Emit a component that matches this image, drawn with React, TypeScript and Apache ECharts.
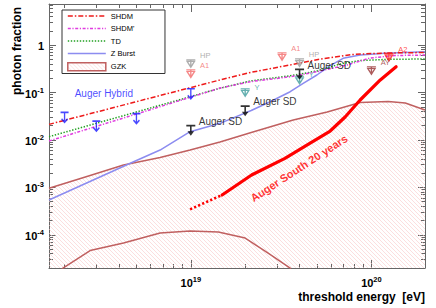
import React, { useEffect, useRef } from "react";
import * as echarts from "echarts";

const FONT = 'Arial, "Liberation Sans", Helvetica, sans-serif';

// ---- axis ranges and major ticks (energy in eV, photon fraction) ----
const energyRange = [1.64e18, 1.98e20];
const fractionRange = [1.99e-5, 7.36];
const energyMajorTicks = [1e19, 1e20];
const fractionMajorTicks = [1e-4, 1e-3, 1e-2, 1e-1, 1];

// ---- model curves ----
const shdmE = [1.64e18, 4.79e18, 1.45e19, 2.16e19, 4.03e19, 5.07e19, 7.72e19, 1.19e20, 1.98e20];
const shdmF = [0.0213, 0.0615, 0.184, 0.267, 0.419, 0.497, 0.633, 0.681, 0.698];

const shdm2E = [1.64e18, 4.79e18, 1.45e19, 2.13e19, 3.55e19, 4.99e19, 7.31e19, 9.83e19, 1.35e20, 1.98e20];
const shdm2F = [0.0095, 0.0335, 0.124, 0.169, 0.215, 0.275, 0.38, 0.534, 0.603, 0.618];

const tdE = [1.64e18, 4.79e18, 1.45e19, 2.13e19, 3.55e19, 4.99e19, 6.71e19, 8.66e19, 1.27e20, 1.98e20];
const tdF = [0.0117, 0.0371, 0.123, 0.175, 0.226, 0.284, 0.399, 0.473, 0.502, 0.509];

const zburstE = [1.64e18, 4.79e18, 6.76e18, 9.91e18, 1.45e19, 2.16e19, 2.75e19, 3.55e19, 4.19e19, 4.99e19, 5.91e19, 6.97e19, 8.66e19, 1.19e20, 1.98e20];
const zburstF = [5.4e-4, 3.42e-3, 6.12e-3, 0.0149, 0.0224, 0.0417, 0.064, 0.104, 0.156, 0.234, 0.368, 0.527, 0.618, 0.671, 0.726];

const gzkUpperE = [1.64e18, 2.77e18, 4.24e18, 6.76e18, 9.91e18, 1.45e19, 2.16e19, 3.69e19, 5.69e19, 8.66e19, 1.24e20, 1.54e20, 1.98e20];
const gzkUpperF = [9.53e-4, 1.78e-3, 2.96e-3, 4.25e-3, 6.12e-3, 9.03e-3, 0.0143, 0.0263, 0.0388, 0.0615, 0.0646, 0.06, 0.0427];

const gzkLowerE = [1.77e18, 1.96e18, 2.77e18, 4.24e18, 6.76e18, 9.91e18, 1.42e19, 2.0e19, 2.68e19, 3.55e19, 3.69e19];
const gzkLowerF = [1.35e-5, 1.98e-5, 4.64e-5, 6.68e-5, 1.09e-4, 1.2e-4, 1.14e-4, 8.52e-5, 4.11e-5, 1.98e-5, 1.35e-5];

// ---- Auger South 20 years sensitivity ----
const southDotE = [9.91e18, 1.49e19];
const southDotF = [3.44e-4, 6.88e-4];
const southE = [1.49e19, 2.17e19, 3.32e19, 4.58e19, 5.91e19, 7.15e19, 8.66e19, 1.12e20, 1.37e20];
const southF = [6.88e-4, 1.82e-3, 4.09e-3, 8.6e-3, 0.0154, 0.0304, 0.0695, 0.184, 0.35];

// ---- upper limits ----
const hybridE = [2e18, 3e18, 5e18, 1e19];
const hybridF = [0.038, 0.025, 0.036, 0.12];
const sdE = [1e19, 2e19, 4e19];
const sdF = [0.021, 0.054, 0.32];
const hpE = [1e19, 4e19];
const hpF = [0.49, 0.51];
const a1E = [1e19, 3.2e19];
const a1F = [0.3, 0.69];
const yakE = [2e19, 4e19];
const yakF = [0.12, 0.22];
const ayE = [1e20];
const ayF = [0.35];
const a2E = [1.25e20];
const a2F = [0.67];

// ---- text annotations ----
const hybridTextAt = [3.3e18, 0.0976];
const southTextAt = [3.97e19, 2.55e-3];

const lg = Math.log10;
const pts = (E: number[], F: number[]) => E.map((e, i) => [lg(e), lg(F[i])]);
const named = (E: number[], F: number[], name: string) =>
  E.map((e, i) => ({ name, value: [lg(e), lg(F[i])] }));

function minorTicks(lo: number, hi: number) {
  const out: number[] = [];
  for (let n = Math.floor(lo) - 1; n <= Math.ceil(hi); n++) {
    for (let k = 2; k <= 9; k++) {
      const v = n + lg(k);
      if (v > lo && v < hi) out.push(v);
    }
  }
  return out;
}

const xMin = lg(energyRange[0]);
const xMax = lg(energyRange[1]);
const yMin = lg(fractionRange[0]);
const yMax = lg(fractionRange[1]);
const AXIS = "#666";

const hatchSvg =
  '<svg xmlns="http://www.w3.org/2000/svg" width="4" height="4">' +
  '<path d="M-1,-1L5,5M-1,3L1,5M3,-1L5,1" stroke="#f8caca" stroke-width="0.6" fill="none"/></svg>';
const hatch = {
  image: "data:image/svg+xml;charset=utf-8," + encodeURIComponent(hatchSvg),
  repeat: "repeat",
  imageWidth: 4,
  imageHeight: 4,
};

const powLabel = (v: number) => {
  const n = Math.round(v);
  return n === 0 ? "{b|1}" : "{b|10}{s|" + n + "}";
};
const richLabel = {
  b: { fontSize: 11, fontWeight: "bold", fontFamily: FONT, color: "#000", lineHeight: 13, verticalAlign: "bottom" },
  s: { fontSize: 7.5, fontWeight: "bold", fontFamily: FONT, color: "#000", lineHeight: 6, verticalAlign: "top" },
};

function axis(position: string, min: number, max: number, ticks: number[], len: number, extra: any = {}) {
  return {
    type: "value",
    position,
    min,
    max,
    axisLine: { show: extra.line !== false, onZero: false, lineStyle: { color: AXIS, width: 1 } },
    axisTick: { show: true, inside: true, length: len, customValues: ticks, lineStyle: { color: AXIS, width: 1 } },
    axisLabel: extra.label || { show: false },
    splitLine: { show: false },
    minorTick: { show: false },
    ...(extra.name || {}),
  };
}

const xMajor = energyMajorTicks.map(lg);
const yMajor = fractionMajorTicks.map(lg);
const xMinor = minorTicks(xMin, xMax);
const yMinor = minorTicks(yMin, yMax);

const SHDM_DASH = [5, 2, 1.5, 2];
const SHDM2_DASH = [3, 1.6, 1.2, 1.6];
const TD_DASH = [1.4, 1.6];

const ARROW_OPEN = "path://M0,0L8,0M4,0L4,10M1,6.5L4,10L7,6.5";
const ARROW_SOLID = "path://M0,0L9,0L9,1.8L5.3,1.8L5.3,6.6L7.8,6.6L4.5,11L1.2,6.6L3.7,6.6L3.7,1.8L0,1.8Z";
const LIMIT_TRI = "path://M0,0L9,0M0.8,1.6L8.2,1.6L4.5,7.5ZM4.5,0L4.5,7.5";

function triSeries(name: string, E: number[], F: number[], color: string, dy = -8) {
  return {
    name,
    type: "scatter",
    data: named(E, F, name),
    symbol: LIMIT_TRI,
    symbolSize: [9, 7.5],
    symbolOffset: [0, "50%"],
    itemStyle: { color: "none", borderColor: color, borderWidth: 1.3 },
    label: {
      show: true,
      position: "right",
      distance: 2,
      offset: [0, dy],
      formatter: "{b}",
      color,
      fontSize: 7.5,
      lineHeight: 7,
      fontFamily: FONT,
    },
    z: 5,
  };
}

const option: any = {
  animation: false,
  backgroundColor: "#fff",
  grid: { left: 49, right: 11, top: 4, bottom: 40, containLabel: false, outerBoundsMode: "none" },
  xAxis: [
    axis("bottom", xMin, xMax, xMajor, 8, {
      label: {
        show: true,
        customValues: xMajor,
        margin: 7,
        formatter: powLabel,
        rich: richLabel,
      },
      name: {
        name: "threshold energy  [eV]",
        nameLocation: "end",
        nameGap: 0,
        nameMoveOverlap: false,
        nameTextStyle: {
          fontSize: 12,
          fontWeight: "bold",
          fontFamily: FONT,
          color: "#000",
          align: "right",
          verticalAlign: "top",
          lineHeight: 13,
          padding: [22, 0, 0, 0],
        },
      },
    }),
    axis("bottom", xMin, xMax, xMinor, 4, { line: false }),
    axis("top", xMin, xMax, xMajor, 8),
    axis("top", xMin, xMax, xMinor, 4, { line: false }),
  ],
  yAxis: [
    axis("left", yMin, yMax, yMajor, 7, {
      label: {
        show: true,
        customValues: yMajor,
        margin: 5,
        formatter: powLabel,
        rich: richLabel,
      },
      name: {
        name: "photon fraction",
        nameLocation: "end",
        nameGap: -3,
        nameRotate: 90,
        nameMoveOverlap: false,
        nameTextStyle: {
          fontSize: 12,
          fontWeight: "bold",
          fontFamily: FONT,
          color: "#000",
          align: "right",
          verticalAlign: "bottom",
          lineHeight: 14,
          padding: [0, 0, 25, 0],
        },
      },
    }),
    axis("left", yMin, yMax, yMinor, 4, { line: false }),
    axis("right", yMin, yMax, yMajor, 7),
    axis("right", yMin, yMax, yMinor, 4, { line: false }),
  ],
  legend: {
    orient: "vertical",
    left: 62,
    top: 10,
    selectedMode: false,
    itemWidth: 38,
    itemHeight: 8,
    itemGap: 4.5,
    padding: [2, 30, 2, 5],
    borderColor: "#333",
    borderWidth: 1,
    backgroundColor: "#fff",
    itemStyle: { opacity: 0 },
    textStyle: { fontSize: 7.5, color: "#000", fontFamily: FONT },
    data: [
      { name: "SHDM", lineStyle: { type: SHDM_DASH, width: 1.6 } },
      { name: "SHDM'", lineStyle: { type: SHDM2_DASH, width: 1.6 } },
      { name: "TD", lineStyle: { type: TD_DASH, width: 1.6 } },
      { name: "Z Burst", lineStyle: { type: "solid", width: 1.6 } },
      {
        name: "GZK",
        icon: "rect",
        itemStyle: { opacity: 1, color: hatch, borderColor: "#c06060", borderWidth: 1.5 },
      },
    ],
  },
  series: [
    {
      name: "GZK",
      type: "line",
      data: pts(gzkUpperE, gzkUpperF),
      symbol: "none",
      lineStyle: { color: "#c06060", width: 1.5 },
      areaStyle: { color: hatch, origin: "start", opacity: 1 },
      z: 1,
    },
    {
      name: "GZK",
      type: "line",
      data: pts(gzkLowerE, gzkLowerF),
      symbol: "none",
      lineStyle: { color: "#c06060", width: 1.5 },
      z: 2,
    },
    {
      name: "Z Burst",
      type: "line",
      data: pts(zburstE, zburstF),
      symbol: "none",
      color: "#8c8cf0",
      lineStyle: { color: "#8c8cf0", width: 1.5 },
      z: 3,
    },
    {
      name: "TD",
      type: "line",
      data: pts(tdE, tdF),
      symbol: "none",
      color: "#22a022",
      lineStyle: { color: "#22a022", width: 1.5, type: TD_DASH },
      z: 3,
    },
    {
      name: "SHDM'",
      type: "line",
      data: pts(shdm2E, shdm2F),
      symbol: "none",
      color: "#e03ce0",
      lineStyle: { color: "#e03ce0", width: 1.5, type: SHDM2_DASH },
      z: 3,
    },
    {
      name: "SHDM",
      type: "line",
      data: pts(shdmE, shdmF),
      symbol: "none",
      color: "#ee1a1a",
      lineStyle: { color: "#ee1a1a", width: 1.5, type: SHDM_DASH },
      z: 3,
    },
    {
      name: "Auger South (extrapolated)",
      type: "line",
      data: pts(southDotE, southDotF),
      symbol: "none",
      lineStyle: { color: "#ff0000", width: 2.6, type: [2.2, 2.2] },
      z: 4,
    },
    {
      name: "Auger South 20 years",
      type: "line",
      data: pts(southE, southF),
      symbol: "none",
      lineStyle: { color: "#ff0000", width: 3.2, cap: "round" },
      z: 4,
    },
    {
      name: "Auger Hybrid",
      type: "scatter",
      data: pts(hybridE, hybridF),
      symbol: ARROW_OPEN,
      symbolSize: [8, 10],
      symbolOffset: [0, "50%"],
      itemStyle: { color: "none", borderColor: "#1a1aff", borderWidth: 1.5 },
      z: 5,
    },
    triSeries("HP", hpE, hpF, "#999999", -8.5),
    triSeries("A1", a1E, a1F, "#f26a6a"),
    triSeries("Y", yakE, yakF, "#3e9c9c", -5.5),
    triSeries("AY", ayE, ayF, "#993333"),
    triSeries("A2", a2E, a2F, "#ff1a1a"),
    {
      name: "Auger SD",
      type: "scatter",
      data: named(sdE, sdF, "Auger SD"),
      symbol: ARROW_SOLID,
      symbolSize: [9, 11],
      symbolOffset: [0, "50%"],
      itemStyle: { color: "#000" },
      label: {
        show: true,
        position: "right",
        distance: 3.5,
        offset: [0, -8.8],
        formatter: "{b}",
        color: "#000",
        fontSize: 10,
        lineHeight: 9,
        fontFamily: FONT,
      },
      z: 6,
    },
    {
      name: "annotations",
      type: "scatter",
      symbolSize: 1,
      itemStyle: { color: "transparent" },
      data: [
        {
          name: "Auger Hybrid",
          value: [lg(hybridTextAt[0]), lg(hybridTextAt[1])],
          label: { show: true, position: "inside", formatter: "{b}", color: "#1a1aff", fontSize: 10, fontFamily: FONT },
        },
        {
          name: "Auger South 20 years",
          value: [lg(southTextAt[0]), lg(southTextAt[1])],
          label: {
            show: true,
            position: "inside",
            formatter: "{b}",
            color: "#ff0000",
            fontSize: 11,
            fontWeight: "bold",
            fontFamily: FONT,
            rotate: 33,
          },
        },
      ],
      z: 6,
    },
  ],
};

export default function App() {
  const ref = useRef<HTMLDivElement>(null);
  useEffect(() => {
    const chart = echarts.init(ref.current!, null, { renderer: "svg" });
    chart.setOption(option);
    return () => chart.dispose();
  }, []);
  return (
    <div
      ref={ref}
      style={{ position: "fixed", left: 0, top: 0, width: 436, height: 308, background: "#fff" }}
    />
  );
}
